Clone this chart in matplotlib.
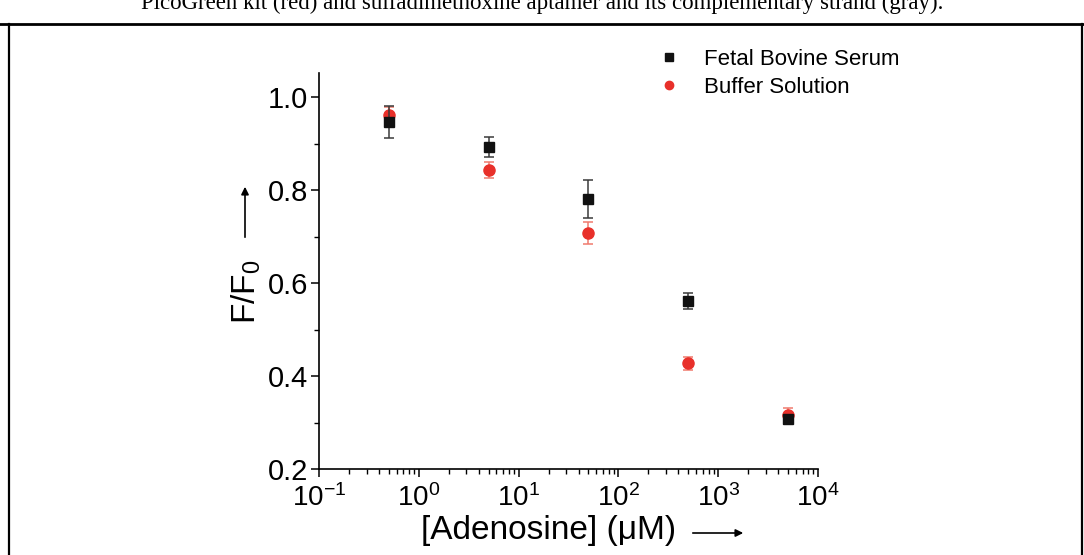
import matplotlib
matplotlib.use("Agg")
from matplotlib import pyplot as plt
from matplotlib.lines import Line2D
import numpy as np

plt.rcParams['font.family'] = ['Liberation Sans', 'DejaVu Sans']
plt.rcParams['mathtext.fontset'] = 'custom'
plt.rcParams['mathtext.rm'] = 'Liberation Sans'

# adenosine concentration (uM) and normalised fluorescence F/F0
conc = [0.5, 5, 50, 500, 5000]
fbs = [0.946, 0.893, 0.781, 0.562, 0.307]
fbs_err = [0.034, 0.022, 0.040, 0.017, 0.010]
buf = [0.961, 0.844, 0.708, 0.427, 0.316]
buf_err = [0.018, 0.017, 0.024, 0.015, 0.015]

W, H = 1084, 555
fig = plt.figure(figsize=(W / 100, H / 100), dpi=100)

def px(x, y):
    # pixel position measured from the top-left corner -> figure fraction
    return x / W, 1 - y / H

ax = fig.add_axes([319 / W, 1 - 469 / H, (818 - 319) / W, (469 - 73) / H])

ax.errorbar(conc, fbs, yerr=fbs_err, fmt='s', color='#111111', ecolor='#3a3a3a',
            markersize=7, elinewidth=1.1, capsize=3.5, capthick=1.1,
            label='Fetal Bovine Serum', zorder=3)
ax.errorbar(conc, buf, yerr=buf_err, fmt='o', color='#e8302a', ecolor='#f07a6e',
            markersize=8, elinewidth=1.1, capsize=3.5, capthick=1.1,
            label='Buffer Solution', zorder=2)

ax.set_xscale('log')
ax.set_xlim(0.1, 1e4)
ax.set_ylim(0.2, 1.052)
ax.set_yticks([0.2, 0.4, 0.6, 0.8, 1.0])
ax.set_yticks([0.3, 0.5, 0.7, 0.9], minor=True)
ax.set_yticklabels(['0.2', '0.4', '0.6', '0.8', '1.0'])
ax.set_xticks([0.1, 1, 10, 100, 1000, 10000])

for s in ['top', 'right']:
    ax.spines[s].set_visible(False)
for s in ['left', 'bottom']:
    ax.spines[s].set_linewidth(1.2)
ax.tick_params(which='major', direction='out', length=6, width=1.1,
               labelsize=21, pad=2)
ax.tick_params(axis='x', which='major', labelsize=20, pad=5)
ax.tick_params(which='minor', direction='out', length=3.5, width=1.0)

handles, labels = ax.get_legend_handles_labels()
handles = [h[0] for h in handles]
ax.legend(handles, labels, loc='upper left', bbox_to_anchor=px(660, 49),
          bbox_transform=fig.transFigure, frameon=False, fontsize=16,
          handlelength=0.8, handletextpad=1.2, labelspacing=0.32,
          borderpad=0, borderaxespad=0, markerscale=0.75, numpoints=1)

# axis labels with arrows
fig.text(*px(246, 292), r'F/F$_\mathregular{0}$', rotation=90, fontsize=24,
         ha='center', va='center')
fig.add_artist(plt.Annotation('', xy=px(245, 184), xytext=px(245, 240),
                              xycoords='figure fraction', textcoords='figure fraction',
                              arrowprops=dict(arrowstyle='-|>', color='black',
                                              lw=1.2, mutation_scale=11)))
fig.text(*px(549, 531), '[Adenosine] (μM)', fontsize=24, ha='center', va='center')
fig.add_artist(plt.Annotation('', xy=px(746, 533), xytext=px(690, 533),
                              xycoords='figure fraction', textcoords='figure fraction',
                              arrowprops=dict(arrowstyle='-|>', color='black',
                                              lw=1.2, mutation_scale=11)))

# caption above the table cell, clipped by the page edge
fig.text(*px(542, 9), 'PicoGreen kit (red) and sulfadimethoxine aptamer and its '
         'complementary strand (gray).', family='Liberation Serif', fontsize=16.5,
         ha='center', va='baseline')

# table cell border
fig.add_artist(Line2D([0, 1], [px(0, 24)[1]] * 2,
                      transform=fig.transFigure, color='black', lw=2.0))
for xb in [9, 1082]:
    fig.add_artist(Line2D([xb / W] * 2, [0, px(0, 24)[1]],
                          transform=fig.transFigure, color='black', lw=1.6))

fig.savefig('out.png', dpi=100)
